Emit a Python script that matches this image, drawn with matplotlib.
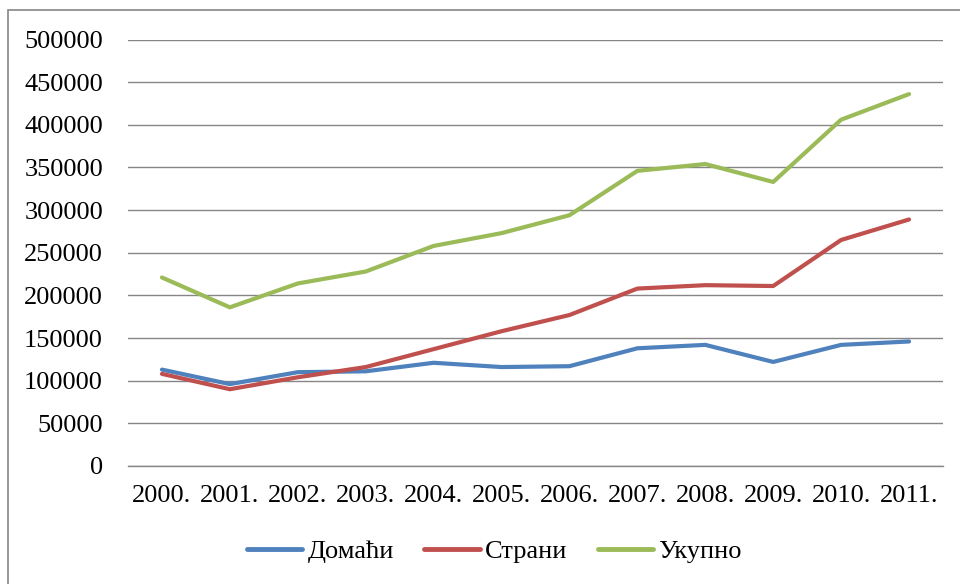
import matplotlib.pyplot as plt
from matplotlib.patches import Rectangle

years = ["2000.", "2001.", "2002.", "2003.", "2004.", "2005.",
         "2006.", "2007.", "2008.", "2009.", "2010.", "2011."]
domaci = [113000, 96000, 110000, 111000, 121000, 116000,
          117000, 138000, 142000, 122000, 142000, 146000]
strani = [108000, 90000, 104000, 116000, 137000, 158000,
          177000, 208000, 212000, 211000, 265000, 289000]
ukupno = [221000, 186000, 214000, 228000, 258000, 273000,
          294000, 346000, 354000, 333000, 406000, 436000]

plt.rcParams['font.family'] = ['Liberation Serif', 'DejaVu Serif']

fig = plt.figure(figsize=(9.6, 5.84), dpi=100)
ax = fig.add_axes([128/960, 1-466/584, (943-128)/960, (466-39.5)/584])

x = list(range(len(years)))
style = dict(lw=3, solid_capstyle='round', solid_joinstyle='round')
ax.plot(x, domaci, color='#4F81BD', label='Домаћи', **style)
ax.plot(x, strani, color='#C0504D', label='Страни', **style)
ax.plot(x, ukupno, color='#9BBB59', label='Укупно', **style)

ax.set_xlim(-0.5, 11.5)
ax.set_ylim(0, 500000)
ax.set_yticks(range(0, 500001, 50000))
ax.set_xticks(x)
ax.set_xticklabels(years)
ax.tick_params(length=0, labelsize=19)
ax.tick_params(axis='x', pad=14)
ax.tick_params(axis='y', pad=18)
ax.grid(axis='y', color='#868686', lw=1)
ax.set_axisbelow(True)
for s in ax.spines.values():
    s.set_visible(False)
ax.spines['bottom'].set_visible(True)
ax.spines['bottom'].set_color('#868686')
ax.spines['bottom'].set_linewidth(1)

leg = fig.legend(loc='center', bbox_to_anchor=(0.515, 1-551/584), ncol=3, frameon=False,
                 fontsize=19, handlelength=2.1, columnspacing=1.15, handletextpad=0.2)
for h in leg.legend_handles:
    h.set_linewidth(3.5)

fig.patches.append(Rectangle((8/960, -0.1), 1.2, 1-10/584+0.1, transform=fig.transFigure,
                             fill=False, edgecolor='#868686', lw=1.2))

fig.savefig('out.png', dpi=100)
